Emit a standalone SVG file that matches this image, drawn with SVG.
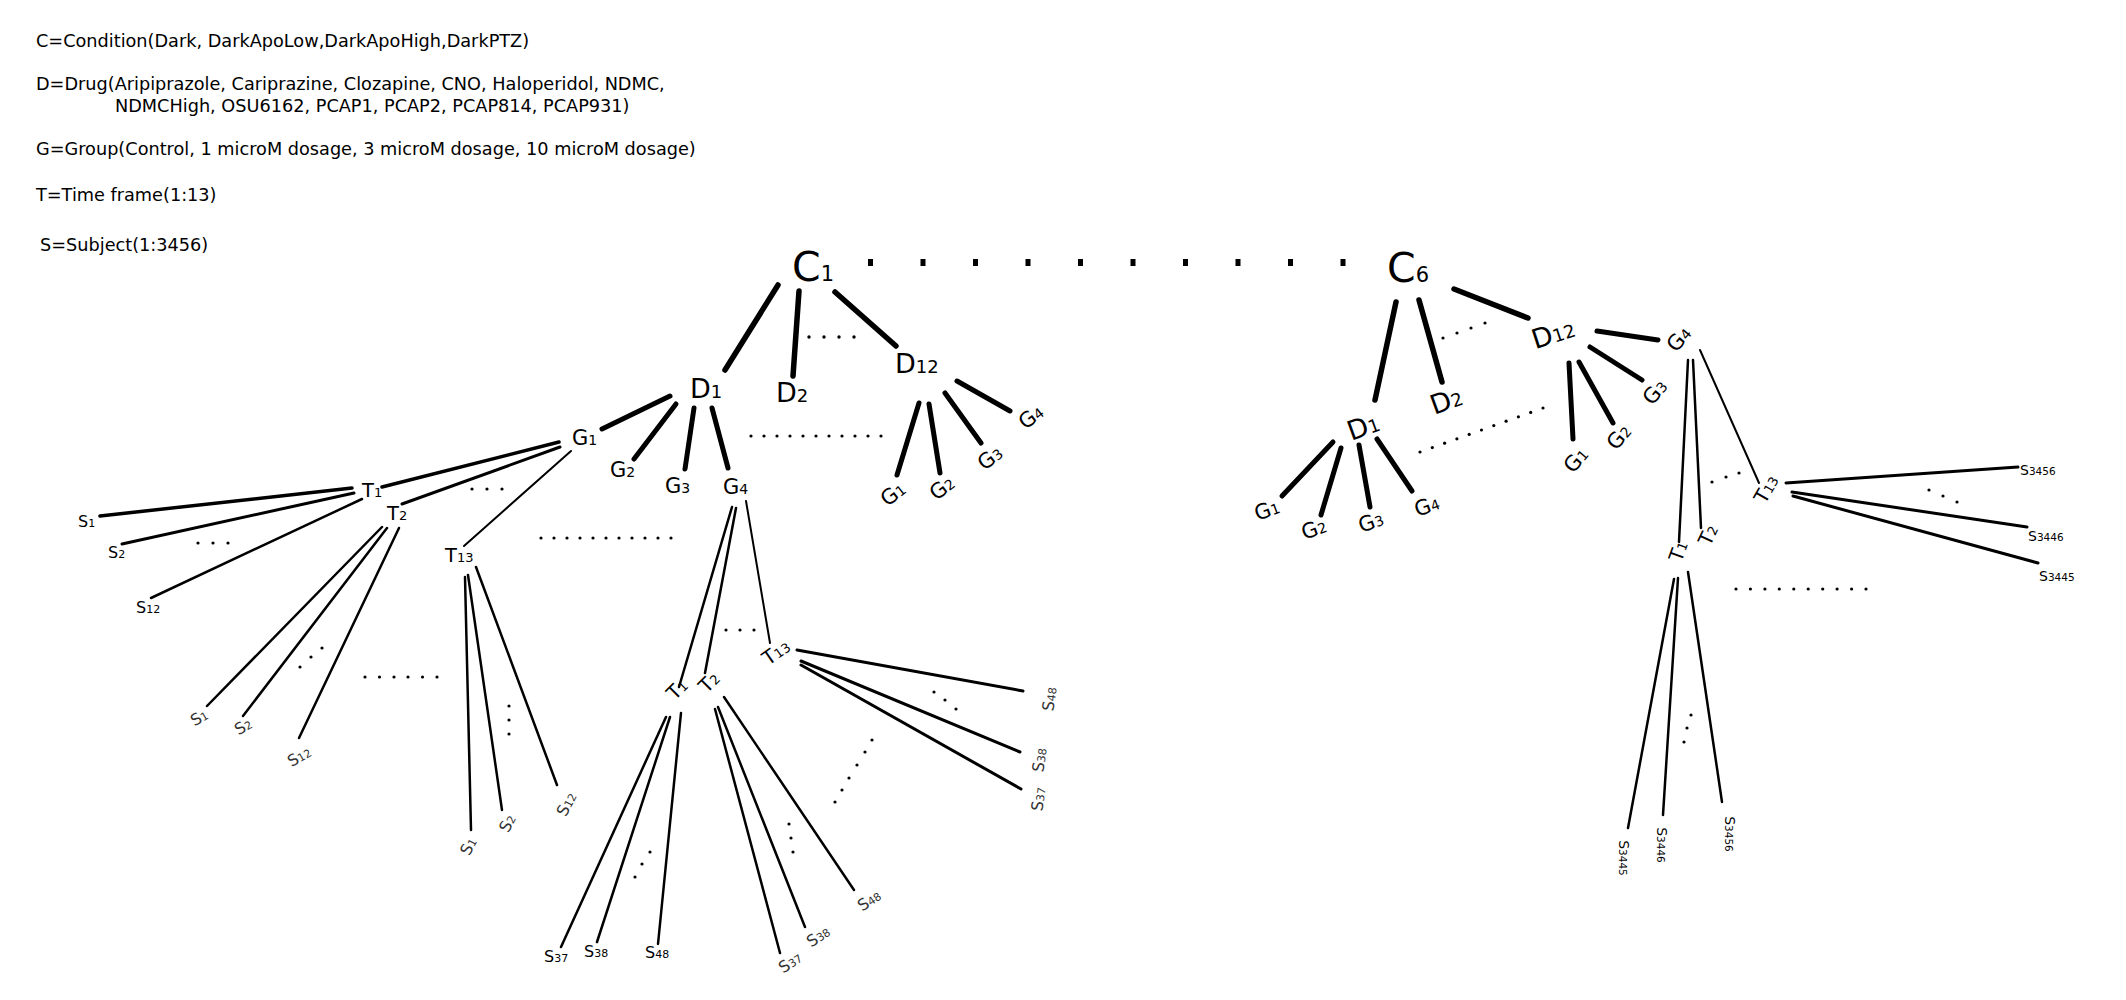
<svg xmlns="http://www.w3.org/2000/svg" width="2126" height="1000" viewBox="0 0 2126 1000">
<style>
text{font-family:"DejaVu Sans","Liberation Sans",sans-serif;fill:#000}
.leg{font-size:17.7px}
.c{font-size:41px}.cs{font-size:21px}
.d{font-size:27px}.ds{font-size:18px}
.g{font-size:21px}.gs{font-size:14px}
.t{font-size:19.5px}.ts{font-size:13px}
.s{font-size:16px}.ss{font-size:11px}
.sr{font-size:14px}.srs{font-size:10.5px}
.grey{fill:#333}
line{stroke:#000;stroke-linecap:round;fill:none}
.k1{stroke-width:5.5}
.k2{stroke-width:5}
.m{stroke-width:3}
.m2{stroke-width:2.5}
.n{stroke-width:2}
.dot{fill:#000}
.bigdot{fill:#000}
</style>

<g id="legend">
<text class="leg" x="36" y="47">C=Condition(Dark, DarkApoLow,DarkApoHigh,DarkPTZ)</text>
<text class="leg" x="36" y="90">D=Drug(Aripiprazole, Cariprazine, Clozapine, CNO, Haloperidol, NDMC,</text>
<text class="leg" x="115" y="112">NDMCHigh, OSU6162, PCAP1, PCAP2, PCAP814, PCAP931)</text>
<text class="leg" x="36" y="155">G=Group(Control, 1 microM dosage, 3 microM dosage, 10 microM dosage)</text>
<text class="leg" x="36" y="201">T=Time frame(1:13)</text>
<text class="leg" x="40" y="251">S=Subject(1:3456)</text>
</g>

<g id="connectors">
<!-- C1 subtree -->
<line class="k1" x1="778" y1="285" x2="725" y2="370"/>
<line class="k1" x1="799" y1="291" x2="793" y2="376"/>
<line class="k1" x1="835" y1="292" x2="896" y2="346"/>
<line class="k2" x1="670" y1="396" x2="602" y2="429"/>
<line class="k2" x1="676" y1="404" x2="634" y2="459"/>
<line class="k2" x1="694" y1="408" x2="685" y2="469"/>
<line class="k2" x1="712" y1="408" x2="728" y2="468"/>
<line class="k2" x1="919" y1="403" x2="897" y2="475"/>
<line class="k2" x1="929" y1="404" x2="940" y2="473"/>
<line class="k2" x1="945" y1="393" x2="981" y2="443"/>
<line class="k2" x1="957" y1="381" x2="1010" y2="411"/>
<!-- left G1 -->
<line stroke-width="3.5" x1="559" y1="442" x2="382" y2="487"/>
<line class="m" x1="560" y1="447" x2="402" y2="504"/>
<line class="n" x1="571" y1="451" x2="464" y2="546"/>
<line stroke-width="3.5" x1="352" y1="488" x2="100" y2="516"/>
<line class="m" x1="354" y1="493" x2="122" y2="544"/>
<line class="m2" x1="362" y1="499" x2="151" y2="598"/>
<line class="m2" x1="382" y1="527" x2="207" y2="706"/>
<line class="m2" x1="387" y1="528" x2="243" y2="716"/>
<line class="m2" x1="399" y1="528" x2="299" y2="738"/>
<line class="m2" x1="465" y1="577" x2="471" y2="830"/>
<line class="m2" x1="468" y1="575" x2="502" y2="810"/>
<line class="m2" x1="476" y1="567" x2="557" y2="785"/>
<!-- left G4 -->
<line class="m2" x1="732" y1="507" x2="679" y2="687"/>
<line class="m2" x1="736" y1="508" x2="705" y2="673"/>
<line class="n" x1="746" y1="501" x2="770" y2="643"/>
<line class="m2" x1="666" y1="717" x2="561" y2="947"/>
<line class="m2" x1="670" y1="717" x2="597" y2="942"/>
<line class="m2" x1="681" y1="713" x2="658" y2="944"/>
<line class="m2" x1="715" y1="709" x2="780" y2="953"/>
<line class="m2" x1="718" y1="707" x2="805" y2="927"/>
<line class="m2" x1="724" y1="697" x2="854" y2="890"/>
<line class="m" x1="797" y1="650" x2="1023" y2="691"/>
<line class="m" x1="801" y1="661" x2="1020" y2="752"/>
<line class="m" x1="801" y1="665" x2="1021" y2="789"/>
<!-- C6 subtree -->
<line class="k1" x1="1396" y1="302" x2="1375" y2="400"/>
<line class="k1" x1="1419" y1="300" x2="1442" y2="382"/>
<line class="k1" x1="1454" y1="289" x2="1528" y2="318"/>
<line class="k2" x1="1333" y1="442" x2="1282" y2="496"/>
<line class="k2" x1="1341" y1="448" x2="1321" y2="515"/>
<line class="k2" x1="1359" y1="445" x2="1370" y2="507"/>
<line class="k2" x1="1377" y1="439" x2="1412" y2="491"/>
<line class="k2" x1="1569" y1="363" x2="1573" y2="439"/>
<line class="k2" x1="1579" y1="362" x2="1613" y2="423"/>
<line class="k2" x1="1590" y1="347" x2="1642" y2="380"/>
<line class="k2" x1="1597" y1="331" x2="1658" y2="340"/>
<line class="m2" x1="1688" y1="360" x2="1679" y2="542"/>
<line class="m2" x1="1693" y1="360" x2="1701" y2="528"/>
<line class="n" x1="1700" y1="350" x2="1759" y2="483"/>
<line class="m" x1="1786" y1="483" x2="2018" y2="467"/>
<line class="m" x1="1792" y1="492" x2="2027" y2="527"/>
<line class="m" x1="1793" y1="496" x2="2038" y2="563"/>
<line class="m2" x1="1674" y1="579" x2="1628" y2="828"/>
<line class="m2" x1="1678" y1="578" x2="1663" y2="815"/>
<line class="m2" x1="1688" y1="572" x2="1722" y2="802"/>
</g>

<g id="ellipses">
<g id="c-row">
<rect class="bigdot" x="868" y="259" width="5" height="7"/><rect class="bigdot" x="920.5" y="259" width="5" height="7"/>
<rect class="bigdot" x="973" y="259" width="5" height="7"/><rect class="bigdot" x="1025.5" y="259" width="5" height="7"/>
<rect class="bigdot" x="1078" y="259" width="5" height="7"/><rect class="bigdot" x="1130.5" y="259" width="5" height="7"/>
<rect class="bigdot" x="1183" y="259" width="5" height="7"/><rect class="bigdot" x="1235.5" y="259" width="5" height="7"/>
<rect class="bigdot" x="1288" y="259" width="5" height="7"/><rect class="bigdot" x="1340.5" y="259" width="5" height="7"/>
</g>
<g class="dot">
<circle cx="809" cy="337" r="1.7"/><circle cx="824" cy="337" r="1.7"/><circle cx="839" cy="337" r="1.7"/><circle cx="854" cy="337" r="1.7"/>
<circle cx="751" cy="436" r="1.6"/><circle cx="764" cy="436" r="1.6"/><circle cx="777" cy="436" r="1.6"/><circle cx="790" cy="436" r="1.6"/><circle cx="803" cy="436" r="1.6"/><circle cx="816" cy="436" r="1.6"/><circle cx="829" cy="436" r="1.6"/><circle cx="842" cy="436" r="1.6"/><circle cx="855" cy="436" r="1.6"/><circle cx="868" cy="436" r="1.6"/><circle cx="881" cy="436" r="1.6"/>
<circle cx="541" cy="538" r="1.6"/><circle cx="554" cy="538" r="1.6"/><circle cx="567" cy="538" r="1.6"/><circle cx="580" cy="538" r="1.6"/><circle cx="593" cy="538" r="1.6"/><circle cx="606" cy="538" r="1.6"/><circle cx="619" cy="538" r="1.6"/><circle cx="632" cy="538" r="1.6"/><circle cx="645" cy="538" r="1.6"/><circle cx="658" cy="538" r="1.6"/><circle cx="671" cy="538" r="1.6"/>
<circle cx="472" cy="489" r="1.6"/><circle cx="487" cy="489" r="1.6"/><circle cx="502" cy="489" r="1.6"/>
<circle cx="198" cy="543" r="1.6"/><circle cx="213" cy="543" r="1.6"/><circle cx="228" cy="543" r="1.6"/>
<circle cx="300" cy="667" r="1.6"/><circle cx="311" cy="657" r="1.6"/><circle cx="322" cy="648" r="1.6"/>
<circle cx="365" cy="677" r="1.6"/><circle cx="379.5" cy="677" r="1.6"/><circle cx="394" cy="677" r="1.6"/><circle cx="408" cy="677" r="1.6"/><circle cx="422.5" cy="677" r="1.6"/><circle cx="437" cy="677" r="1.6"/>
<circle cx="509" cy="706" r="1.6"/><circle cx="509" cy="720" r="1.6"/><circle cx="509" cy="734" r="1.6"/>
<circle cx="726" cy="630" r="1.6"/><circle cx="740" cy="630" r="1.6"/><circle cx="754" cy="630" r="1.6"/>
<circle cx="635" cy="877" r="1.6"/><circle cx="642" cy="864" r="1.6"/><circle cx="650" cy="852" r="1.6"/>
<circle cx="789" cy="824" r="1.6"/><circle cx="791" cy="838" r="1.6"/><circle cx="793" cy="852" r="1.6"/>
<circle cx="835" cy="802" r="1.6"/><circle cx="842" cy="790" r="1.6"/><circle cx="849" cy="778" r="1.6"/><circle cx="857" cy="765" r="1.6"/><circle cx="865" cy="752" r="1.6"/><circle cx="872" cy="740" r="1.6"/>
<circle cx="934" cy="692" r="1.6"/><circle cx="945" cy="700" r="1.6"/><circle cx="956" cy="709" r="1.6"/>
<circle cx="1443" cy="338" r="1.6"/><circle cx="1457" cy="333" r="1.6"/><circle cx="1471" cy="328" r="1.6"/><circle cx="1485" cy="323" r="1.6"/>
<circle cx="1420" cy="452" r="1.6"/><circle cx="1432.3" cy="447.6" r="1.6"/><circle cx="1444.6" cy="443.2" r="1.6"/><circle cx="1456.9" cy="438.8" r="1.6"/><circle cx="1469.2" cy="434.4" r="1.6"/><circle cx="1481.5" cy="430" r="1.6"/><circle cx="1493.8" cy="425.6" r="1.6"/><circle cx="1506.1" cy="421.2" r="1.6"/><circle cx="1518.4" cy="416.8" r="1.6"/><circle cx="1530.7" cy="412.4" r="1.6"/><circle cx="1543" cy="408" r="1.6"/>
<circle cx="1712" cy="482" r="1.6"/><circle cx="1726" cy="477" r="1.6"/><circle cx="1739" cy="473" r="1.6"/>
<circle cx="1929" cy="490" r="1.6"/><circle cx="1943" cy="496" r="1.6"/><circle cx="1957" cy="502" r="1.6"/>
<circle cx="1736" cy="589" r="1.6"/><circle cx="1750.4" cy="589" r="1.6"/><circle cx="1764.9" cy="589" r="1.6"/><circle cx="1779.3" cy="589" r="1.6"/><circle cx="1793.8" cy="589" r="1.6"/><circle cx="1808.2" cy="589" r="1.6"/><circle cx="1822.7" cy="589" r="1.6"/><circle cx="1837.1" cy="589" r="1.6"/><circle cx="1851.6" cy="589" r="1.6"/><circle cx="1866" cy="589" r="1.6"/>
<circle cx="1691" cy="715" r="1.6"/><circle cx="1687" cy="728" r="1.6"/><circle cx="1684" cy="742" r="1.6"/>
</g>
</g>

<!-- C1 tree nodes -->
<g id="C1"><text class="c" x="792" y="281">C<tspan class="cs">1</tspan></text></g>
<g id="C1-D1"><text class="d" x="690" y="398">D<tspan class="ds">1</tspan></text></g>
<g id="C1-D2"><text class="d" x="776" y="402">D<tspan class="ds">2</tspan></text></g>
<g id="C1-D12"><text class="d" x="895" y="373">D<tspan class="ds">12</tspan></text></g>
<g id="C1-D1-G1"><text class="g" x="572" y="445">G<tspan class="gs">1</tspan></text></g>
<g id="C1-D1-G2"><text class="g" x="610" y="477">G<tspan class="gs">2</tspan></text></g>
<g id="C1-D1-G3"><text class="g" x="665" y="493">G<tspan class="gs">3</tspan></text></g>
<g id="C1-D1-G4"><text class="g" x="723" y="494">G<tspan class="gs">4</tspan></text></g>
<g id="C1-D12-G1" transform="translate(893,494) rotate(-38)"><text class="g" x="0" y="7" text-anchor="middle">G<tspan class="gs">1</tspan></text></g>
<g id="C1-D12-G2" transform="translate(942,488) rotate(-38)"><text class="g" x="0" y="7" text-anchor="middle">G<tspan class="gs">2</tspan></text></g>
<g id="C1-D12-G3" transform="translate(990,458) rotate(-38)"><text class="g" x="0" y="7" text-anchor="middle">G<tspan class="gs">3</tspan></text></g>
<g id="C1-D12-G4" transform="translate(1031,417) rotate(-38)"><text class="g" x="0" y="7" text-anchor="middle">G<tspan class="gs">4</tspan></text></g>

<g id="G1-T1"><text class="t" x="362" y="497">T<tspan class="ts">1</tspan></text></g>
<g id="G1-T2"><text class="t" x="387" y="520">T<tspan class="ts">2</tspan></text></g>
<g id="G1-T13"><text class="t" x="445" y="562">T<tspan class="ts">13</tspan></text></g>
<g id="G1-T1-S1"><text class="s" x="78" y="527">S<tspan class="ss">1</tspan></text></g>
<g id="G1-T1-S2"><text class="s" x="108" y="558">S<tspan class="ss">2</tspan></text></g>
<g id="G1-T1-S12"><text class="s" x="136" y="613">S<tspan class="ss">12</tspan></text></g>
<g id="G1-T2-S1" transform="translate(199,717) rotate(-30)"><text class="s grey" x="0" y="6" text-anchor="middle">S<tspan class="ss">1</tspan></text></g>
<g id="G1-T2-S2" transform="translate(243,726) rotate(-30)"><text class="s grey" x="0" y="6" text-anchor="middle">S<tspan class="ss">2</tspan></text></g>
<g id="G1-T2-S12" transform="translate(299,756) rotate(-30)"><text class="s grey" x="0" y="6" text-anchor="middle">S<tspan class="ss">12</tspan></text></g>
<g id="G1-T13-S1" transform="translate(468,846) rotate(-62)"><text class="s grey" x="0" y="6" text-anchor="middle">S<tspan class="ss">1</tspan></text></g>
<g id="G1-T13-S2" transform="translate(507,823) rotate(-62)"><text class="s grey" x="0" y="6" text-anchor="middle">S<tspan class="ss">2</tspan></text></g>
<g id="G1-T13-S12" transform="translate(566,804) rotate(-62)"><text class="s grey" x="0" y="6" text-anchor="middle">S<tspan class="ss">12</tspan></text></g>

<g id="G4-T1" transform="translate(677,689) rotate(-45)"><text class="t" x="0" y="7" text-anchor="middle">T<tspan class="ts">1</tspan></text></g>
<g id="G4-T2" transform="translate(709,682) rotate(-45)"><text class="t" x="0" y="7" text-anchor="middle">T<tspan class="ts">2</tspan></text></g>
<g id="G4-T13" transform="translate(776,652) rotate(-35)"><text class="t" x="0" y="7" text-anchor="middle">T<tspan class="ts">13</tspan></text></g>
<g id="G4-T1-S37"><text class="s" x="544" y="962">S<tspan class="ss">37</tspan></text></g>
<g id="G4-T1-S38"><text class="s" x="584" y="957">S<tspan class="ss">38</tspan></text></g>
<g id="G4-T1-S48"><text class="s" x="645" y="958">S<tspan class="ss">48</tspan></text></g>
<g id="G4-T2-S37" transform="translate(790,962) rotate(-34)"><text class="s grey" x="0" y="6" text-anchor="middle">S<tspan class="ss">37</tspan></text></g>
<g id="G4-T2-S38" transform="translate(818,936) rotate(-34)"><text class="s grey" x="0" y="6" text-anchor="middle">S<tspan class="ss">38</tspan></text></g>
<g id="G4-T2-S48" transform="translate(869,900) rotate(-34)"><text class="s grey" x="0" y="6" text-anchor="middle">S<tspan class="ss">48</tspan></text></g>
<g id="G4-T13-S48" transform="translate(1049,699) rotate(-82)"><text class="s grey" x="0" y="6" text-anchor="middle">S<tspan class="ss">48</tspan></text></g>
<g id="G4-T13-S38" transform="translate(1039,760) rotate(-82)"><text class="s grey" x="0" y="6" text-anchor="middle">S<tspan class="ss">38</tspan></text></g>
<g id="G4-T13-S37" transform="translate(1038,799) rotate(-82)"><text class="s grey" x="0" y="6" text-anchor="middle">S<tspan class="ss">37</tspan></text></g>

<!-- C6 tree nodes -->
<g id="C6"><text class="c" x="1387" y="282">C<tspan class="cs">6</tspan></text></g>
<g id="C6-D1" transform="translate(1363,426) rotate(-20)"><text class="d" x="0" y="10" text-anchor="middle">D<tspan class="ds">1</tspan></text></g>
<g id="C6-D2" transform="translate(1446,400) rotate(-20)"><text class="d" x="0" y="10" text-anchor="middle">D<tspan class="ds">2</tspan></text></g>
<g id="C6-D12" transform="translate(1553,333) rotate(-18)"><text class="d" x="0" y="10" text-anchor="middle">D<tspan class="ds">12</tspan></text></g>
<g id="C6-D1-G1" transform="translate(1267,510) rotate(-20)"><text class="g" x="0" y="7" text-anchor="middle">G<tspan class="gs">1</tspan></text></g>
<g id="C6-D1-G2" transform="translate(1314,529) rotate(-20)"><text class="g" x="0" y="7" text-anchor="middle">G<tspan class="gs">2</tspan></text></g>
<g id="C6-D1-G3" transform="translate(1371,522) rotate(-20)"><text class="g" x="0" y="7" text-anchor="middle">G<tspan class="gs">3</tspan></text></g>
<g id="C6-D1-G4" transform="translate(1427,506) rotate(-20)"><text class="g" x="0" y="7" text-anchor="middle">G<tspan class="gs">4</tspan></text></g>
<g id="C6-D12-G1" transform="translate(1576,460) rotate(-50)"><text class="g" x="0" y="7" text-anchor="middle">G<tspan class="gs">1</tspan></text></g>
<g id="C6-D12-G2" transform="translate(1619,437) rotate(-50)"><text class="g" x="0" y="7" text-anchor="middle">G<tspan class="gs">2</tspan></text></g>
<g id="C6-D12-G3" transform="translate(1655,392) rotate(-50)"><text class="g" x="0" y="7" text-anchor="middle">G<tspan class="gs">3</tspan></text></g>
<g id="C6-D12-G4" transform="translate(1679,339) rotate(-50)"><text class="g" x="0" y="7" text-anchor="middle">G<tspan class="gs">4</tspan></text></g>
<g id="C6-G4-T1" transform="translate(1678,551) rotate(-70)"><text class="t" x="0" y="7" text-anchor="middle">T<tspan class="ts">1</tspan></text></g>
<g id="C6-G4-T2" transform="translate(1708,535) rotate(-65)"><text class="t" x="0" y="7" text-anchor="middle">T<tspan class="ts">2</tspan></text></g>
<g id="C6-G4-T13" transform="translate(1766,489) rotate(-60)"><text class="t" x="0" y="7" text-anchor="middle">T<tspan class="ts">13</tspan></text></g>
<g id="C6-T13-S3456"><text class="sr" x="2020" y="475">S<tspan class="srs">3456</tspan></text></g>
<g id="C6-T13-S3446"><text class="sr" x="2028" y="541">S<tspan class="srs">3446</tspan></text></g>
<g id="C6-T13-S3445"><text class="sr" x="2039" y="581">S<tspan class="srs">3445</tspan></text></g>
<g id="C6-T1-S3445" transform="translate(1624,858) rotate(90)"><text class="sr" x="0" y="5" text-anchor="middle">S<tspan class="srs">3445</tspan></text></g>
<g id="C6-T1-S3446" transform="translate(1662,845) rotate(90)"><text class="sr" x="0" y="5" text-anchor="middle">S<tspan class="srs">3446</tspan></text></g>
<g id="C6-T1-S3456" transform="translate(1730,834) rotate(90)"><text class="sr" x="0" y="5" text-anchor="middle">S<tspan class="srs">3456</tspan></text></g>
</svg>
